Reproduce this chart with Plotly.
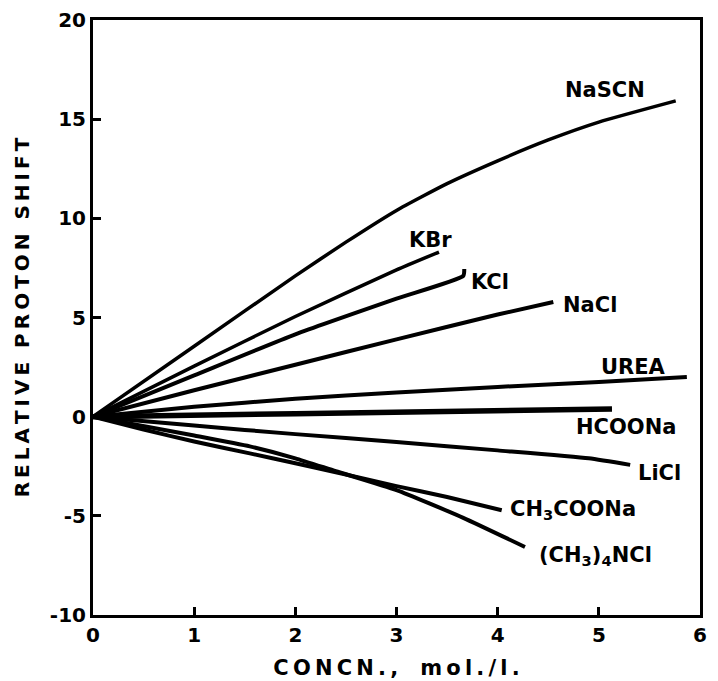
import plotly.graph_objects as go

# ---- data ----
nascn_x = [0, 1, 2, 2.5, 3, 3.5, 4, 4.5, 5, 5.76]
nascn_y = [0, 3.55, 7.1, 8.8, 10.4, 11.75, 12.9, 13.95, 14.85, 15.92]
kbr_x = [0, 1, 2, 3, 3.42]
kbr_y = [0, 2.55, 5.05, 7.4, 8.3]
kcl_x = [0, 1, 2, 3, 3.66, 3.67]
kcl_y = [0, 2.08, 4.15, 5.95, 7.1, 7.45]
nacl_x = [0, 1, 2, 3, 4, 4.55]
nacl_y = [0, 1.33, 2.62, 3.9, 5.15, 5.78]
urea_x = [0, 1, 2, 3, 4, 5, 5.87]
urea_y = [0, 0.5, 0.9, 1.22, 1.5, 1.75, 2.0]
hcoona_x = [0, 2, 5.13]
hcoona_y = [0, 0.15, 0.39]
licl_x = [0, 1, 2, 3, 4, 4.9, 5.31]
licl_y = [0, -0.45, -0.88, -1.28, -1.7, -2.1, -2.43]
ch3coona_x = [0, 0.5, 1, 1.55, 2, 2.4, 3, 3.5, 4.04]
ch3coona_y = [0, -0.65, -1.25, -1.85, -2.35, -2.8, -3.5, -4.05, -4.72]
tma_x = [0, 1, 1.55, 2, 2.4, 3, 3.66, 4.27]
tma_y = [0, -0.95, -1.5, -2.1, -2.75, -3.7, -5.1, -6.57]

x_ticks = [0, 1, 2, 3, 4, 5, 6]
y_ticks = [-10, -5, 0, 5, 10, 15, 20]

series = [
    (nascn_x, nascn_y, 3.5),
    (kbr_x, kbr_y, 3.5),
    (kcl_x, kcl_y, 4),
    (nacl_x, nacl_y, 4),
    (urea_x, urea_y, 4),
    (hcoona_x, hcoona_y, 5.5),
    (licl_x, licl_y, 4),
    (ch3coona_x, ch3coona_y, 4),
    (tma_x, tma_y, 4),
]

labels = [
    ("NaSCN", 5.06, 16.47),
    ("KBr", 3.34, 8.9),
    ("KCl", 3.92, 6.8),
    ("NaCl", 4.91, 5.63),
    ("UREA", 5.34, 2.5),
    ("HCOONa", 5.27, -0.52),
    ("LiCl", 5.60, -2.84),
    ("CH<sub>3</sub>COONa", 4.74, -4.71),
    ("(CH<sub>3</sub>)<sub>4</sub>NCl", 4.97, -7.0),
]

FONT = "DejaVu Sans"
TS = "\u2009"  # thin space for letter spacing in titles


def spaced(s):
    return TS.join(list(s))


fig = go.Figure()
for xs, ys, w in series:
    fig.add_trace(go.Scatter(x=xs, y=ys, mode="lines",
                             line=dict(color="black", width=w, shape="spline", smoothing=0.5),
                             showlegend=False, hoverinfo="skip"))

for text, lx, ly in labels:
    fig.add_annotation(x=lx, y=ly, text=text, showarrow=False,
                       font=dict(family=FONT, size=21, color="black", weight="bold"))

fig.update_xaxes(range=[0, 6], tickvals=x_ticks, ticktext=[str(v) for v in x_ticks],
                 ticks="inside", ticklen=8, tickwidth=2.5, tickcolor="black",
                 showline=True, linewidth=3, linecolor="black", mirror=True,
                 showgrid=False, zeroline=False, automargin=False,
                 tickfont=dict(family=FONT, size=20, color="black", weight="bold"),
                 title=dict(text=spaced("CONCN.,") + "   " + spaced("mol./l."), standoff=15,
                            font=dict(family=FONT, size=21, color="black", weight="bold")))
fig.update_yaxes(range=[-10, 20], tickvals=y_ticks, ticktext=[str(v) for v in y_ticks],
                 ticks="inside", ticklen=8, tickwidth=2.5, tickcolor="black",
                 showline=True, linewidth=3, linecolor="black", mirror=True,
                 showgrid=False, zeroline=False, automargin=False,
                 tickfont=dict(family=FONT, size=20, color="black", weight="bold"),
                 title=dict(text=spaced("RELATIVE") + "  " + spaced("PROTON") + "  " + spaced("SHIFT"),
                            standoff=15,
                            font=dict(family=FONT, size=20, color="black", weight="bold")))

fig.update_layout(width=718, height=681, margin=dict(l=93, r=18, t=20, b=66),
                  paper_bgcolor="white", plot_bgcolor="white")

fig.write_html("out.html")
